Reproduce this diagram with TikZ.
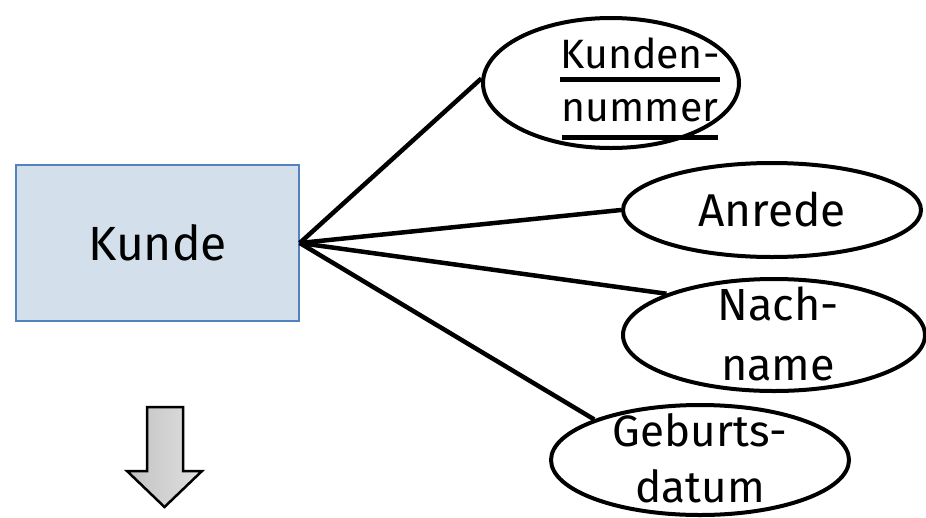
\documentclass[tikz,border=0pt]{standalone}
\usepackage{fontspec}
\setmainfont{Fira Sans}
\usetikzlibrary{shapes.geometric}
\definecolor{entityfill}{RGB}{211,224,236}
\definecolor{entityline}{RGB}{84,130,190}
% thick underline for key attributes, #1 = position of the bar
\newsavebox{\keybox}
\newcommand{\keyattr}[2][-14pt]{\sbox{\keybox}{#2}\rlap{\rule[#1]{\wd\keybox}{5pt}}\usebox{\keybox}}

\begin{document}
\begin{tikzpicture}[x=1pt, y=-1pt,
  entity/.style={rectangle, draw=entityline, fill=entityfill, line width=1.5pt,
    minimum width=283pt, minimum height=156pt, inner sep=0pt,
    font=\fontsize{48}{56}\selectfont},
  attr/.style={ellipse, draw, line width=4pt, inner sep=0pt},
  attrtext/.style={align=center, inner sep=0pt},
  link/.style={line width=4.5pt}]
\useasboundingbox (0,0) rectangle (926,517);
%\draw [help lines, step=50] (0,0) grid (926,517);

\node[entity] (kunde) at (157.5,243) {Kunde};

\node[attr, minimum width=256pt, minimum height=130pt] (knr)    at (611,83)  {};
\node[attr, minimum width=298pt, minimum height=94pt,
      font=\fontsize{46}{54}\selectfont]                (anrede) at (772,210) {Anrede};
\node[attr, minimum width=302pt, minimum height=112pt] (nach)   at (774,335) {};
\node[attr, minimum width=298pt, minimum height=110pt] (geb)    at (700,460) {};

% texts of the attributes, they stick out of the ellipses
\node[attrtext, font=\fontsize{41}{53}\selectfont] (knrtext)  at (640,89)
  {\keyattr[-13pt]{Kunden-}\\\keyattr[-18pt]{nummer}};
\node[attrtext, font=\fontsize{45}{60}\selectfont] (nachtext) at (778,334) {Nach-\\name};
\node[attrtext, font=\fontsize{44}{56}\selectfont] (gebtext)  at (700,458) {Geburts-\\datum};

% Edges
\draw[link] (kunde.east) -- (knr.178);
\draw[link] (kunde.east) -- (anrede.west);
\draw[link] (kunde.east) -- (nach.159);
\draw[link] (kunde.east) -- (geb.159);

% arrow below the entity
\draw[line width=2.5pt, left color=black!24, right color=black!12]
  (147,407) -- (183,407) -- (183,471) -- (202,471) -- (164.5,507)
  -- (127,471) -- (147,471) -- cycle;
\end{tikzpicture}
\end{document}
